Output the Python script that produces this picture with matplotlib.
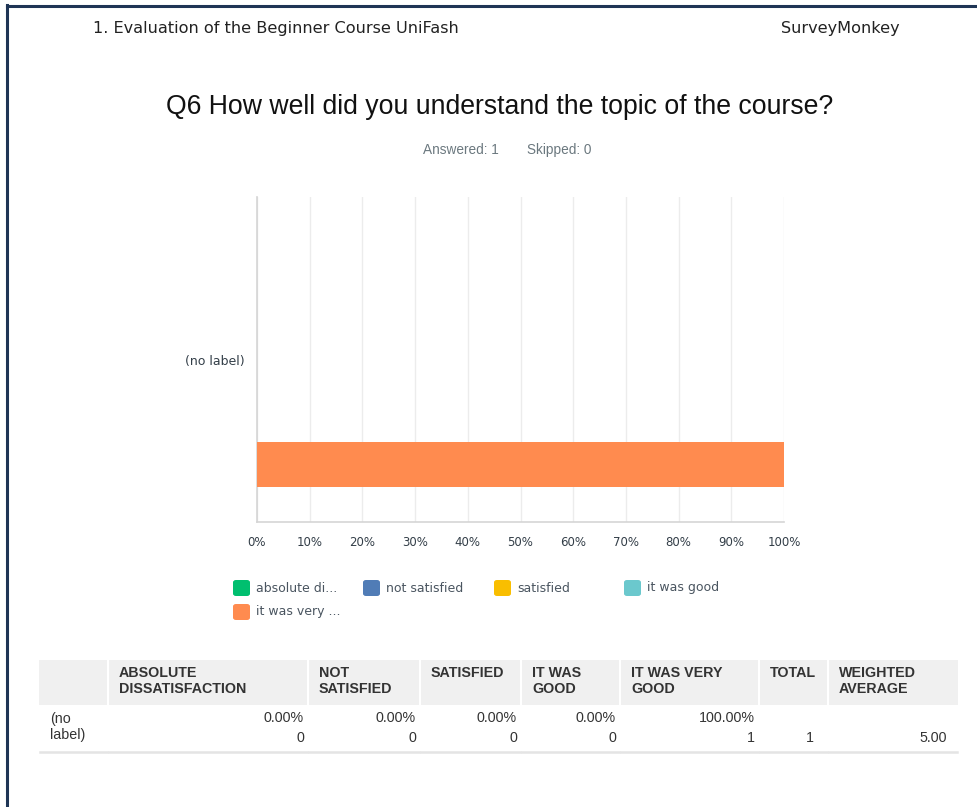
import matplotlib
matplotlib.use("Agg")
import matplotlib.pyplot as plt
import matplotlib.transforms as mtransforms
from matplotlib.patches import Rectangle, FancyBboxPatch
from matplotlib.lines import Line2D

# ---- data ----
row_label = "(no label)"
answer_options = ["absolute dissatisfaction", "not satisfied", "satisfied",
                  "it was good", "it was very good"]
legend_labels = ["absolute di...", "not satisfied", "satisfied", "it was good",
                 "it was very ..."]
table_headers = ["ABSOLUTE\nDISSATISFACTION", "NOT\nSATISFIED", "SATISFIED",
                 "IT WAS\nGOOD", "IT WAS VERY\nGOOD", "TOTAL", "WEIGHTED\nAVERAGE"]
percents = [0.0, 0.0, 0.0, 0.0, 100.0]
counts = [0, 0, 0, 0, 1]
total = 1
weighted_average = 5.00
answered = 1
skipped = 0
x_ticks = [0, 10, 20, 30, 40, 50, 60, 70, 80, 90, 100]
colors = ["#00bf6f", "#507cb6", "#f9be00", "#6bc8cd", "#ff8b4f"]

W, H = 977, 807
fig = plt.figure(figsize=(W / 100, H / 100), dpi=100)
fig.patch.set_facecolor("white")


def fx(px):
    return px / W


def fy(py):
    return 1 - py / H


narrow = ["Liberation Sans Narrow", "Liberation Sans", "DejaVu Sans"]
text_dark = "#333e48"

# page frame (top and left edges)
fig.add_artist(Line2D([fx(7), fx(977)], [fy(5.5), fy(5.5)], color="#1f3555", lw=2.2))
fig.add_artist(Line2D([fx(7), fx(7)], [fy(5), fy(807)], color="#1f3555", lw=2.2))

# page header
fig.text(fx(93), fy(29), "1. Evaluation of the Beginner Course UniFash",
         fontsize=11.6, color="#222222", va="center", ha="left", family="DejaVu Sans")
fig.text(fx(900), fy(29), "SurveyMonkey", fontsize=11.6, color="#222222",
         va="center", ha="right", family="DejaVu Sans")

# question title
fig.text(fx(500), fy(107), "Q6 How well did you understand the topic of the course?",
         fontsize=19.2, color="#111111", va="center", ha="center",
         family="Liberation Sans")
fig.text(fx(461), fy(150), f"Answered: {answered}", fontsize=9.8, color="#6b787f",
         va="center", ha="center", family=narrow)
fig.text(fx(559), fy(150), f"Skipped: {skipped}", fontsize=9.8, color="#6b787f",
         va="center", ha="center", family=narrow)

# ---- bar chart ----
ax_l, ax_r, ax_t, ax_b = 257, 784, 197, 522
ax = fig.add_axes([fx(ax_l), fy(ax_b), fx(ax_r - ax_l), (ax_b - ax_t) / H])
ax.set_xlim(0, 100)
ax.set_ylim(0, 1)

label_pos = 0.5
bar_pos = 0.177
bar_height = 0.138
left = 0.0
for pct, col in zip(percents, colors):
    if pct > 0:
        ax.barh(bar_pos, pct, left=left, height=bar_height, color=col,
                edgecolor="none", zorder=3)
    left += pct

ax.set_xticks(x_ticks)
ax.set_xticklabels([f"{t}%" for t in x_ticks], fontsize=8.5, color=text_dark,
                   family="DejaVu Sans")
# nudge the last tick label slightly inward
last = ax.get_xticklabels()[-1]
last.set_transform(last.get_transform() +
                   mtransforms.ScaledTranslation(-5 / 100, 0, fig.dpi_scale_trans))
ax.set_yticks([label_pos])
ax.set_yticklabels([row_label], fontsize=9, color=text_dark, family="DejaVu Sans")
ax.tick_params(axis="both", length=0, pad=10)
ax.tick_params(axis="y", pad=9)
ax.grid(axis="x", color="#ececec", lw=1, zorder=0)
for side in ["top", "right"]:
    ax.spines[side].set_visible(False)
for side in ["left", "bottom"]:
    ax.spines[side].set_color("#d5d5d5")
    ax.spines[side].set_linewidth(1.2)

# ---- legend ----
leg_pos = [(233, 588), (363, 588), (494, 588), (624, 588), (233, 612)]
for (lx, ly), lab, col in zip(leg_pos, legend_labels, colors):
    fig.add_artist(FancyBboxPatch((fx(lx), fy(ly + 8)), fx(17), 16 / H,
                                  boxstyle="round,pad=0,rounding_size=0.003",
                                  facecolor=col, edgecolor="none",
                                  transform=fig.transFigure))
    fig.text(fx(lx + 23), fy(ly), lab, fontsize=9.0, color="#4a5560",
             va="center", ha="left", family="DejaVu Sans")

# ---- table ----
col_edges = [39, 108, 308, 420, 521, 620, 759, 828, 958]
head_top, head_bot = 660, 705
fig.add_artist(Rectangle((fx(col_edges[0]), fy(head_bot)),
                         fx(col_edges[-1] - col_edges[0]), (head_bot - head_top) / H,
                         facecolor="#f0f0f0", edgecolor="none",
                         transform=fig.transFigure))
for e in col_edges[1:-1]:
    fig.add_artist(Line2D([fx(e), fx(e)], [fy(head_top), fy(head_bot)],
                          color="white", lw=1.5))
for i, hd in enumerate(table_headers):
    fig.text(fx(col_edges[i + 1] + 11), fy(666), hd, fontsize=10.3, color="#333333",
             weight="bold", va="top", ha="left", family=narrow, linespacing=1.22)

# body row
fig.text(fx(50), fy(727), "(no\nlabel)", fontsize=10.3, color="#333333",
         va="center", ha="left", family=narrow, linespacing=1.25)
for i, (p, c) in enumerate(zip(percents, counts)):
    xr = col_edges[i + 2] - 4
    fig.text(fx(xr), fy(718), f"{p:.2f}%", fontsize=10.3, color="#333333",
             va="center", ha="right", family=narrow)
    fig.text(fx(xr), fy(738), f"{c}", fontsize=10.3, color="#333333",
             va="center", ha="right", family=narrow)
fig.text(fx(col_edges[7] - 14), fy(738), f"{total}", fontsize=10.3, color="#333333",
         va="center", ha="right", family=narrow)
fig.text(fx(col_edges[8] - 11), fy(738), f"{weighted_average:.2f}", fontsize=10.3,
         color="#333333", va="center", ha="right", family=narrow)

# bottom rule of the table, broken at column boundaries
for a, b in zip(col_edges[:-1], col_edges[1:]):
    fig.add_artist(Line2D([fx(a + 1), fx(b - 1)], [fy(752), fy(752)],
                          color="#e4e4e4", lw=1.8))

fig.savefig("out.png", dpi=100, facecolor="white")
